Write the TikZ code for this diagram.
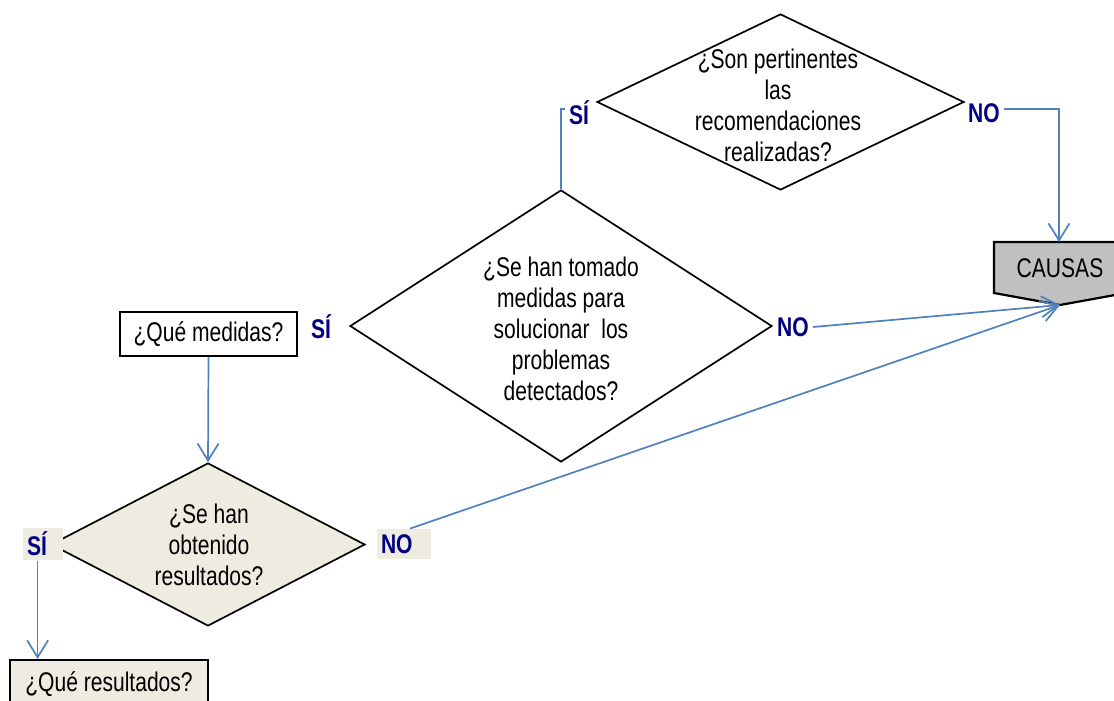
\documentclass[tikz,border=0pt]{standalone}
\usepackage{fontspec}
\setmainfont{Liberation Sans}[FakeStretch=0.78]
\usetikzlibrary{shapes.geometric,arrows.meta}
\definecolor{flujo}{RGB}{79,129,189}
\definecolor{marino}{RGB}{0,0,128}
\definecolor{beige}{RGB}{238,236,225}
\definecolor{gris}{RGB}{192,192,192}
\tikzset{
	pregunta/.style={diamond,draw=black,line width=0.85pt,inner sep=0pt},
	caja/.style={rectangle,draw=black,line width=1.1pt,inner sep=0pt},
	texto/.style={align=center,inner sep=0pt,font=\fontsize{13.5}{15.5}\selectfont},
	resp/.style={font=\bfseries\fontsize{13.5}{15}\selectfont,text=marino,inner sep=2pt},
	flecha/.style={draw=flujo,line width=0.85pt,-{Straight Barb[length=8.5pt,width=10.5pt]}},
	linea/.style={draw=flujo,line width=0.85pt}
}
\begin{document}
\begin{tikzpicture}[x=0.5pt,y=-0.5pt]
\useasboundingbox (0,0) rectangle (1114,701);
%Rauten
\node[pregunta,minimum width=183.5pt,minimum height=88pt] (pert) at (780.5,102) {};
\node[texto] (pertT) at (778,105) {¿Son pertinentes\\las\\recomendaciones\\realizadas?};
\node[pregunta,minimum width=211pt,minimum height=136pt] (tom) at (561,326) {};
\node[texto] (tomT) at (561,329) {¿Se han tomado\\medidas para\\solucionar~ los\\problemas\\detectados?};
\node[pregunta,fill=beige,minimum width=157pt,minimum height=81.5pt] (obt) at (208,544.5) {};
\node[texto] (obtT) at (209,545) {¿Se han\\obtenido\\resultados?};
%Kasten
\node[caja,minimum width=88.5pt,minimum height=22pt] (med) at (208.5,334) {\fontsize{13.5}{15}\selectfont ¿Qué medidas?};
\node[caja,fill=beige,minimum width=99pt,minimum height=24pt] (res) at (109,684) {\fontsize{13.5}{15}\selectfont ¿Qué resultados?};
\draw[black,line width=1.1pt,fill=gris] (994,242) -- (1126,242) -- (1126,293) -- (1060,305) -- (994,293) -- cycle;
\node[texto] (causas) at (1060,268) {CAUSAS};
\coordinate (causasTop) at (1059,242);
\coordinate (causasTip) at (1060,305);
%Antworten
\node[resp] (siA) at (579,113) {SÍ};
\node[resp] (noA) at (984,113) {NO};
\node[resp] (siB) at (321,327) {SÍ};
\node[resp] (noB) at (793,327) {NO};
\node[resp,fill=beige,text width=16pt,minimum height=15pt,inner sep=2pt,align=left] (siC) at (43,544) {SÍ};
\node[resp,fill=beige,text width=23pt,minimum height=15pt,inner sep=2pt,align=left] (noC) at (404,544) {NO};
%Pfeile
\draw[linea] (tom.north) |- ([yshift=2pt]siA.west);
\draw[flecha] ([yshift=2pt]noA.east) -| (causasTop);
\draw[flecha] (noB.east) -- (causasTip);
\draw[flecha] ([xshift=3pt]noC.north) -- (causasTip);
\draw[flecha] (med.south) -- (obt.north);
\coordinate (siCfuss) at ([xshift=7.5pt]siC.south west);
\draw[flecha] (siCfuss) -- (siCfuss |- res.north);
\end{tikzpicture}
\end{document}
